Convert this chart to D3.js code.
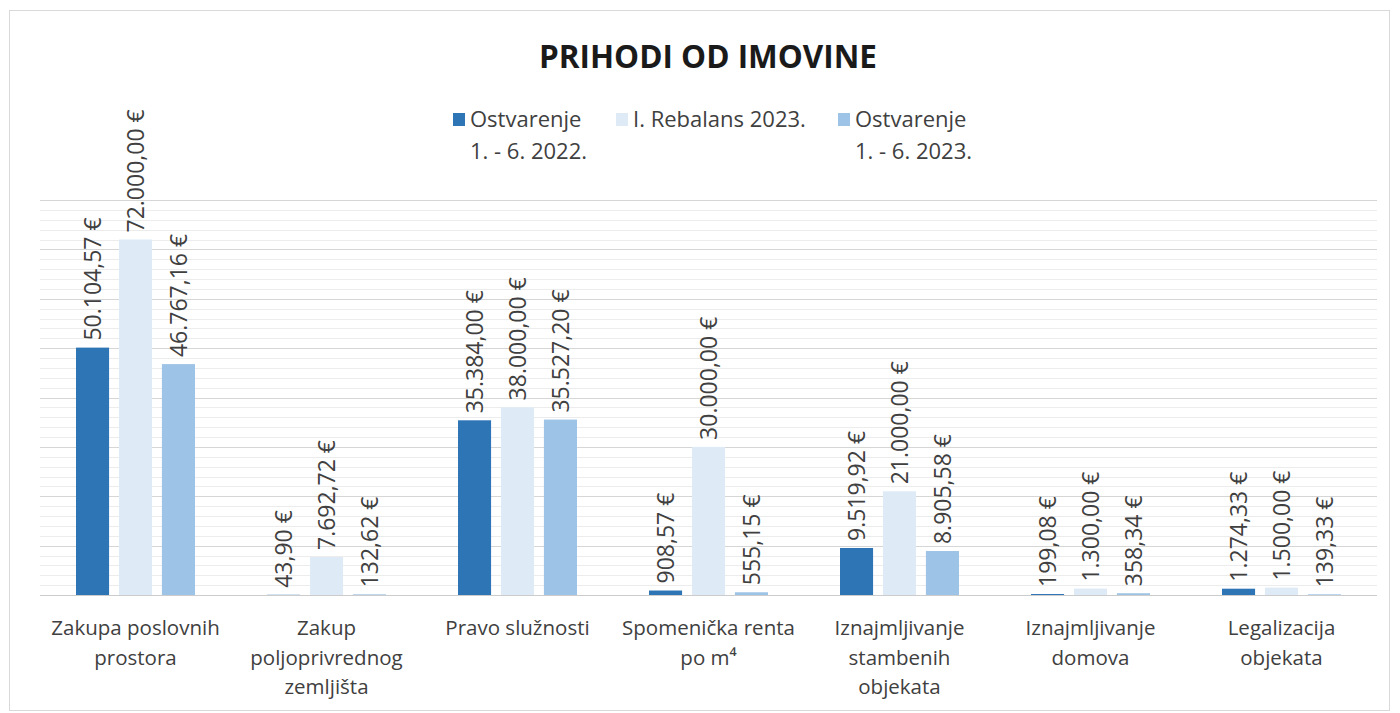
<!DOCTYPE html>
<html>
<head>
<meta charset="utf-8">
<script src="https://cdn.jsdelivr.net/npm/d3@7"></script>
<style>
  body { margin: 0; background: #fff; }
  svg text { font-family: "Open Sans", "Noto Sans", sans-serif; }
</style>
</head>
<body>
<svg id="chart" width="1400" height="713"></svg>
<script>
// categories, each split into the lines shown under the axis
var categories = [
  ["Zakupa poslovnih", "prostora"],
  ["Zakup", "poljoprivrednog", "zemljišta"],
  ["Pravo služnosti"],
  ["Spomenička renta", "po m⁴"],
  ["Iznajmljivanje", "stambenih", "objekata"],
  ["Iznajmljivanje", "domova"],
  ["Legalizacija", "objekata"]
];

var seriesNames = [["Ostvarenje", "1. - 6. 2022."], ["I. Rebalans 2023."], ["Ostvarenje", "1. - 6. 2023."]];
var ostvarenje2022 = [50104.57, 43.90, 35384.00, 908.57, 9519.92, 199.08, 1274.33];
var rebalans2023 = [72000.00, 7692.72, 38000.00, 30000.00, 21000.00, 1300.00, 1500.00];
var ostvarenje2023 = [46767.16, 132.62, 35527.20, 555.15, 8905.58, 358.34, 139.33];
var colors = ["#2e75b6", "#deebf7", "#9dc3e6"];

var series = [ostvarenje2022, rebalans2023, ostvarenje2023];

var svg = d3.select("#chart");
var plotLeft = 40, plotRight = 1377, plotTop = 200, plotBottom = 595;

var hr = d3.formatLocale({decimal: ",", thousands: ".", grouping: [3], currency: ["", " €"]});
var fmt = hr.format("$,.2f");

// chart frame
svg.append("rect")
  .attr("x", 9.5).attr("y", 10.5).attr("width", 1380).attr("height", 700)
  .attr("fill", "#fff").attr("stroke", "#d9d9d9");

var y = d3.scaleLinear().domain([0, 80000]).range([plotBottom, plotTop]);
var x0 = d3.scaleBand().domain(d3.range(categories.length)).range([plotLeft, plotRight]);
var x1 = d3.scaleBand().domain(d3.range(series.length)).range([0, 119]).paddingInner(0.23);
var groupOffset = (x0.bandwidth() - 119) / 2;

// gridlines: minor every 2000, major every 10000
var g = svg.append("g");
g.selectAll("line.minor")
  .data(d3.range(2000, 80001, 2000).filter(function(v) { return v % 10000 != 0; }))
  .enter().append("line")
  .attr("x1", plotLeft).attr("x2", plotRight)
  .attr("y1", function(d) { return Math.round(y(d)) + 0.5; })
  .attr("y2", function(d) { return Math.round(y(d)) + 0.5; })
  .attr("stroke", "#ececec");
g.selectAll("line.major")
  .data(d3.range(10000, 80001, 10000))
  .enter().append("line")
  .attr("x1", plotLeft).attr("x2", plotRight)
  .attr("y1", function(d) { return Math.round(y(d)) + 0.5; })
  .attr("y2", function(d) { return Math.round(y(d)) + 0.5; })
  .attr("stroke", "#d6d6d6");

// bars
series.forEach(function(values, si) {
  svg.append("g").selectAll("rect")
    .data(values)
    .enter().append("rect")
    .attr("x", function(d, i) { return x0(i) + groupOffset + x1(si); })
    .attr("width", x1.bandwidth())
    .attr("y", function(d) { return y(d); })
    .attr("height", function(d) { return plotBottom - y(d); })
    .attr("fill", colors[si]);

  svg.append("g").selectAll("text")
    .data(values)
    .enter().append("text")
    .attr("transform", function(d, i) {
      var cx = x0(i) + groupOffset + x1(si) + x1.bandwidth() / 2;
      return "translate(" + cx + "," + (y(d) - 7) + ") rotate(-90)";
    })
    .attr("dy", "0.36em")
    .attr("font-size", 23)
    .attr("fill", "#404040")
    .text(function(d) { return fmt(d); });
});

// axis line
svg.append("line")
  .attr("x1", plotLeft).attr("x2", plotRight)
  .attr("y1", plotBottom + 0.5).attr("y2", plotBottom + 0.5)
  .attr("stroke", "#cccccc");

// category labels
var catText = svg.append("g").selectAll("text")
  .data(categories)
  .enter().append("text")
  .attr("text-anchor", "middle")
  .attr("font-size", 20.5)
  .attr("fill", "#404040")
  .attr("x", function(d, i) { return x0(i) + x0.bandwidth() / 2; });
catText.selectAll("tspan")
  .data(function(d) { return d; })
  .enter().append("tspan")
  .attr("x", function() { return d3.select(this.parentNode).attr("x"); })
  .attr("y", function(d, j) { return 635 + j * 29.5; })
  .text(function(d) { return d; });

// title
svg.append("text")
  .attr("x", 708).attr("y", 68)
  .attr("text-anchor", "middle")
  .attr("font-size", 31.5).attr("font-weight", "bold")
  .attr("fill", "#1a1a1a")
  .text("PRIHODI OD IMOVINE");

// legend
var legendX = [453, 616, 838];
seriesNames.forEach(function(name, i) {
  svg.append("rect")
    .attr("x", legendX[i]).attr("y", 113)
    .attr("width", 12).attr("height", 13)
    .attr("fill", colors[i]);
  var t = svg.append("text")
    .attr("font-size", 22).attr("fill", "#404040");
  name.forEach(function(line, j) {
    t.append("tspan")
      .attr("x", legendX[i] + 17)
      .attr("y", 127 + j * 32)
      .text(line);
  });
});
</script>
</body>
</html>
